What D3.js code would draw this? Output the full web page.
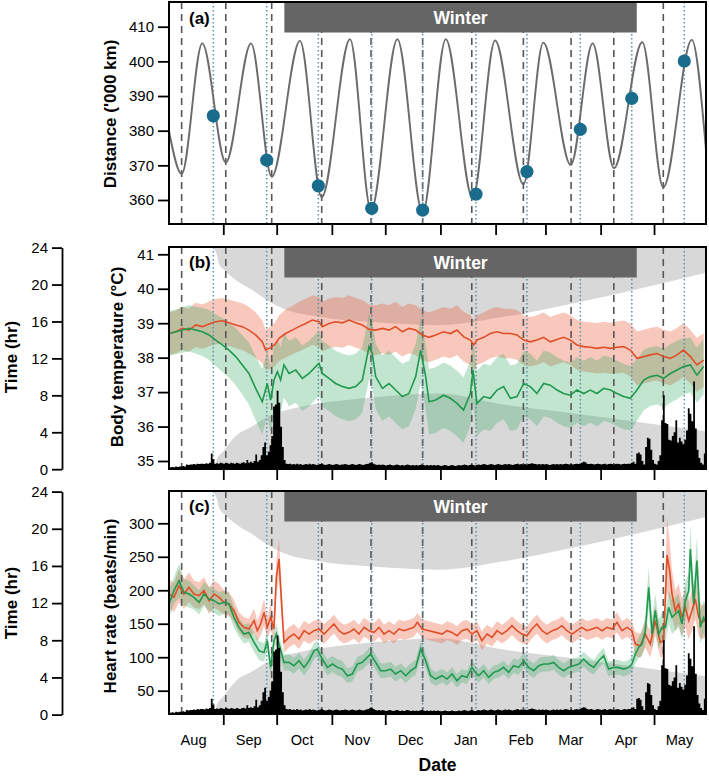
<!DOCTYPE html>
<html><head><meta charset="utf-8">
<script src="https://cdn.jsdelivr.net/npm/d3@7/dist/d3.min.js"></script>
<style>body{margin:0;background:#fff}svg{display:block;font-family:"Liberation Sans",Arial,Helvetica,sans-serif}</style>
</head><body><svg id="chart" width="709" height="777"></svg>
<script>
// ---------------- DATA (days counted from 1 Aug 2014) ----------------
const seasonStartUTC = Date.UTC(2014, 7, 1);
const monthLabels = ["Aug","Sep","Oct","Nov","Dec","Jan","Feb","Mar","Apr","May"];
const distTicks = [360,370,380,390,400,410];
const tempTicks = [35,36,37,38,39,40,41];
const hrTicks = [50,100,150,200,250,300];
const timeTicks = [0,4,8,12,16,20,24];
const winterPeriod = [65.3, 263.3];           // day range of the "Winter" bar
const perigeeDays = [7.6,32.4,58.2,86.3,114.0,143.0,170.6,199.6,226.4,250.4,278.2]; // dashed
const fullMoonDays = [25.4,55.4,84.4,114.4,143.0,173.0,201.6,231.6,260.5,290.0];   // dotted
const fullMoonDist = [384.3,371.5,364.1,357.6,357.1,361.7,368.2,380.4,389.3,400.1];
// lunar distance ('000 km) turning points [day, value]
const lunarDistance = [[0.5,379.9],[7.6,367.5],[19.2,405.2],[32.4,370.8],[46.6,405.2],[58.2,366.7],[74.1,405.9],[86.3,360.8],[102.2,406.4],[114.0,357.0],[128.8,406.4],[143.0,356.3],[156.0,406.4],[171.1,360.5],[183.7,406.0],[199.6,364.5],[210.8,405.4],[226.2,370.1],[238.5,405.2],[250.5,369.2],[266.4,405.5],[278.2,363.6],[294.2,406.2],[302.2,374.4]];
// darkness boundaries [day, hour]
const sunsetHour = [[24.5,24],[27.3,23.3],[28.6,22.25],[32.0,21.5],[38.0,20.5],[47.3,19.4],[56.7,18.2],[62.3,17.6],[84.8,16.5],[112.9,15.96],[152.2,15.6],[188.5,16.5],[226.0,17.9],[302.8,21.3]];
const sunriseHour = [[26.2,0],[27.4,1.1],[30.4,1.8],[38.0,3.6],[47.3,4.66],[56.7,5.74],[75.4,6.8],[94.2,7.35],[122.2,7.9],[152.2,8.2],[188.5,7.0],[226.0,6.1],[302.8,4.1]];
// body temperature [day, mean, half-width]
const tempRed = [[0.5,38.70,.62],[4.3,38.75,.62],[8.0,38.85,.63],[11.7,38.80,.63],[15.5,38.95,.64],[19.2,38.90,.64],[23.0,38.98,.65],[26.7,39.04,.66],[30.5,39.07,.66],[34.2,39.01,.67],[38.0,38.95,.68],[41.7,38.90,.68],[45.4,38.80,.68],[49.2,38.66,.66],[52.9,38.46,.62],[54.8,38.22,.58],[56.7,38.27,.6],[58.6,38.32,.62],[60.4,38.41,.64],[62.3,38.56,.66],[66.0,38.70,.7],[69.8,38.80,.7],[73.5,38.90,.72],[77.3,38.99,.72],[81.0,39.09,.72],[84.8,39.04,.72],[86.6,38.90,.72],[90.4,38.99,.72],[94.1,39.04,.72],[97.9,39.01,.72],[101.6,39.09,.72],[105.4,39.01,.72],[109.1,38.95,.72],[112.9,38.82,.72],[116.6,38.80,.72],[120.4,38.85,.72],[124.1,38.80,.72],[127.8,38.90,.72],[131.6,38.75,.72],[135.3,38.85,.72],[139.1,38.80,.72],[142.8,38.66,.72],[146.6,38.59,.72],[150.3,38.66,.72],[154.8,38.75,.72],[158.6,38.70,.72],[162.3,38.80,.72],[166.0,38.61,.72],[169.8,38.51,.72],[171.7,38.37,.72],[173.5,38.51,.72],[177.3,38.59,.72],[181.0,38.70,.72],[184.8,38.75,.72],[188.5,38.70,.72],[192.3,38.70,.72],[196.0,38.66,.72],[199.8,38.51,.72],[203.5,38.46,.72],[207.2,38.51,.72],[211.0,38.59,.72],[214.7,38.46,.72],[218.5,38.53,.72],[222.2,38.59,.72],[226.0,38.51,.72],[229.7,38.37,.72],[233.5,38.32,.72],[237.2,38.30,.73],[241.0,38.27,.73],[244.7,38.30,.74],[248.5,38.27,.74],[252.2,38.30,.75],[255.9,38.32,.76],[259.7,38.22,.77],[263.4,37.98,.78],[267.2,38.03,.78],[270.9,38.08,.78],[274.7,38.12,.78],[278.4,38.03,.78],[282.2,37.98,.78],[285.9,38.08,.78],[289.6,38.22,.78],[293.4,38.03,.78],[297.1,37.79,.78],[300.9,37.93,.78]];
const tempGreen = [[0.5,38.70,.65],[4.3,38.75,.65],[8.0,38.80,.66],[11.7,38.85,.67],[15.5,38.80,.68],[19.2,38.75,.7],[23.0,38.66,.72],[26.7,38.51,.75],[30.5,38.37,.78],[34.2,38.22,.8],[38.0,38.03,.83],[41.7,37.79,.86],[45.4,37.54,.9],[49.2,37.11,.93],[52.9,36.72,.95],[55.7,37.25,.95],[57.6,36.77,.95],[59.5,37.35,.95],[61.4,37.59,.95],[63.2,37.35,.95],[65.1,37.79,.95],[67.9,37.54,.95],[71.7,37.64,.95],[75.4,37.40,.95],[79.2,37.54,.95],[82.9,37.74,.95],[84.8,37.83,.95],[86.6,37.54,.95],[90.4,37.40,.95],[94.1,37.25,.95],[97.9,37.16,.95],[101.6,37.11,.95],[105.4,37.16,.95],[109.1,37.35,.95],[112.9,38.32,.95],[114.7,38.12,.95],[116.6,37.45,.95],[120.4,37.11,.95],[124.1,37.25,.95],[127.8,37.06,.95],[131.6,36.87,.95],[135.3,36.96,.95],[139.1,37.45,.95],[141.9,38.22,.95],[144.7,37.45,.95],[146.6,36.72,.95],[150.3,36.77,.95],[154.8,36.91,.95],[158.6,36.82,.95],[162.3,36.67,.95],[166.0,36.48,.95],[169.8,36.96,.95],[171.3,37.64,.95],[173.5,36.67,.95],[177.3,36.87,.95],[181.0,36.82,.95],[184.8,37.06,.95],[188.5,37.16,.95],[192.3,36.82,.95],[196.0,36.87,.95],[199.8,37.25,.95],[203.5,37.16,.95],[207.2,36.96,.95],[211.0,37.25,.95],[214.7,37.20,.95],[218.5,37.06,.95],[222.2,36.96,.95],[226.0,36.91,.95],[229.7,37.06,.95],[233.5,36.96,.95],[237.2,37.06,.95],[241.0,36.96,.95],[244.7,37.11,.95],[248.5,37.06,.95],[252.2,36.96,.95],[255.9,36.87,.95],[259.7,36.82,.93],[263.4,37.06,.9],[267.2,37.35,.88],[270.9,37.45,.85],[274.7,37.49,.85],[278.4,37.40,.85],[282.2,37.54,.85],[285.9,37.64,.85],[289.6,37.74,.82],[293.4,37.79,.8],[297.1,37.49,.8],[300.9,37.74,.8]];
// heart rate [day, mean, half-width]
const hrRed = [[0.5,194.4,22],[3.3,189.4,22],[6.1,206.9,25],[8.9,194.4,22],[11.7,204.4,22],[14.5,194.4,20],[17.4,191.9,20],[20.2,199.4,20],[23.0,184.4,20],[25.8,194.4,20],[28.6,189.4,20],[31.4,181.9,18],[34.2,179.5,18],[37.0,169.5,16],[39.8,152.1,15],[42.6,144.6,15],[45.4,142.1,15],[48.3,154.6,18],[50.1,139.6,15],[52.0,149.6,18],[53.9,167.0,20],[55.7,144.6,15],[57.6,159.5,20],[59.5,142.1,15],[60.8,219.3,25],[62.3,246.7,30],[63.8,179.5,25],[65.1,122.2,15],[67.9,129.7,15],[70.7,134.6,15],[73.5,127.2,15],[76.4,139.6,15],[79.2,134.6,15],[82.0,139.6,15],[84.8,142.1,15],[87.6,134.6,15],[90.4,142.1,14],[93.2,149.6,14],[96.0,139.6,14],[98.8,134.6,14],[101.6,137.1,14],[104.4,142.1,14],[107.2,134.6,14],[110.1,144.6,14],[112.9,139.6,14],[115.7,137.1,14],[118.5,144.6,14],[121.3,134.6,14],[124.1,139.6,14],[126.9,134.6,14],[129.7,142.1,14],[132.5,139.6,14],[135.3,142.1,14],[138.1,144.6,14],[140.0,152.1,14],[142.8,142.1,14],[146.6,139.6,14],[150.3,137.1,14],[153.9,134.6,14],[156.7,139.6,14],[159.5,137.1,14],[162.3,132.1,14],[165.1,139.6,14],[167.9,142.1,14],[170.7,134.6,14],[173.5,139.6,14],[176.3,124.7,14],[179.2,134.6,14],[182.0,129.7,14],[184.8,139.6,14],[187.6,134.6,14],[190.4,139.6,14],[193.2,147.1,14],[196.0,139.6,14],[198.8,134.6,14],[201.6,132.1,14],[204.4,142.1,14],[207.2,149.6,14],[210.1,139.6,14],[212.9,134.6,14],[215.7,139.6,14],[218.5,142.1,14],[221.3,147.1,14],[224.1,139.6,14],[226.9,134.6,14],[229.7,139.6,14],[232.5,144.6,14],[235.3,139.6,14],[238.1,142.1,14],[241.0,144.6,14],[243.8,139.6,14],[246.6,144.6,14],[249.4,142.1,14],[252.2,152.1,15],[255.0,139.6,14],[257.8,144.6,14],[260.6,139.6,14],[262.5,119.7,18],[265.3,117.2,18],[268.1,134.6,20],[270.9,119.7,20],[273.7,154.6,22],[276.5,122.2,22],[278.4,124.7,25],[280.3,252.7,55],[281.8,229.3,45],[283.1,194.4,35],[285.0,169.5,30],[286.8,179.5,30],[288.7,159.5,28],[290.6,174.5,30],[292.5,154.6,28],[294.3,169.5,30],[296.2,187.0,30],[298.1,159.5,28],[300.0,152.1,25],[301.8,154.6,25]];
const hrGreen = [[0.5,179.5,20],[3.3,199.4,20],[6.1,214.3,25],[8.9,196.9,20],[11.7,194.4,20],[14.5,189.4,18],[17.4,181.9,18],[20.2,194.4,18],[23.0,186.9,18],[25.8,184.4,18],[28.6,179.5,18],[31.4,181.9,17],[34.2,179.5,16],[37.0,159.5,15],[39.8,144.6,14],[42.6,134.6,14],[45.4,137.1,14],[48.3,122.2,14],[51.1,109.7,14],[53.9,107.2,14],[55.7,124.7,14],[57.6,84.8,12],[59.5,124.7,14],[60.8,134.6,15],[62.3,119.7,14],[65.1,92.3,12],[67.9,92.3,12],[70.7,87.3,12],[73.5,94.8,12],[76.4,84.8,12],[79.2,94.8,12],[82.0,109.7,12],[83.8,112.2,12],[86.6,97.3,12],[89.5,84.8,12],[92.3,89.8,12],[95.1,84.8,12],[97.9,82.3,12],[100.7,72.4,11],[103.5,74.9,11],[106.3,89.8,11],[109.1,92.3,11],[111.9,99.8,11],[113.8,104.8,12],[116.6,92.3,11],[119.4,79.9,11],[122.2,79.9,11],[125.0,82.3,11],[127.8,74.9,11],[130.7,79.9,11],[133.5,72.4,11],[136.3,79.9,11],[139.1,84.8,11],[141.9,112.2,12],[144.7,94.8,11],[147.5,72.4,11],[150.3,67.4,10],[153.9,72.4,10],[156.7,67.4,10],[159.5,74.9,10],[162.3,64.9,10],[165.1,72.4,10],[167.9,69.9,10],[170.7,84.8,11],[172.6,77.4,10],[174.5,72.4,10],[177.3,79.9,10],[180.1,69.9,10],[182.9,77.4,10],[185.7,79.9,10],[188.5,84.8,10],[191.3,77.4,10],[194.1,87.3,11],[196.9,84.8,11],[199.8,94.8,11],[202.6,84.8,11],[205.4,79.9,11],[208.2,87.3,11],[211.0,89.8,11],[213.8,89.8,11],[216.6,92.3,11],[219.4,84.8,11],[222.2,79.9,11],[225.0,84.8,11],[227.8,87.3,11],[230.7,89.8,11],[233.5,97.3,11],[236.3,89.8,11],[239.1,84.8,11],[241.9,94.8,11],[244.7,102.3,12],[247.5,82.3,11],[250.3,84.8,11],[253.1,84.8,11],[255.9,82.3,11],[258.8,84.8,11],[260.6,89.8,12],[262.5,104.8,14],[264.4,114.7,16],[266.2,119.7,18],[268.1,139.6,22],[270.0,204.4,30],[271.9,134.6,25],[273.7,169.5,25],[275.6,134.6,22],[277.5,144.6,22],[279.4,144.6,22],[281.2,174.5,25],[283.1,159.5,25],[285.0,164.5,25],[286.8,169.5,25],[288.7,149.6,22],[290.6,184.4,28],[292.5,199.4,28],[293.4,261.6,35],[295.3,179.5,28],[297.1,244.2,35],[299.0,144.6,25],[300.9,159.5,25],[302.4,152.1,25]];
// daily activity (hr), day 0 = 1 Aug
const activityHours = [
0.2,0.2,0.25,0.2,0.3,0.25,0.3,0.3,0.35,0.3,
0.5,0.45,0.5,0.5,0.55,0.5,0.6,0.55,0.6,0.6,
0.55,0.65,0.6,0.7,1.7,1.1,0.6,0.65,0.6,0.7,
0.65,0.6,0.7,0.65,0.6,0.7,0.65,0.6,0.7,0.65,
0.6,0.7,0.75,0.65,1.0,0.7,0.8,0.7,0.9,1.6,
0.8,1.0,1.5,2.4,2.9,1.5,1.9,2.6,3.6,6.8,
7.0,8.5,7.2,4.6,2.4,1.0,0.6,0.55,0.6,0.5,
0.55,0.5,0.6,0.5,0.55,0.45,0.5,0.55,0.5,0.6,
0.5,0.55,0.5,0.45,0.5,0.55,0.6,0.5,0.45,0.5,
0.55,0.5,0.45,0.5,0.55,0.5,0.45,0.5,0.5,0.55,
0.5,0.45,0.5,0.55,0.5,0.45,0.5,0.55,0.5,0.45,
0.5,0.55,0.6,0.7,0.75,0.6,0.5,0.45,0.5,0.45,
0.5,0.45,0.4,0.45,0.5,0.45,0.4,0.45,0.5,0.45,
0.4,0.45,0.4,0.45,0.5,0.45,0.4,0.45,0.4,0.45,
0.4,0.45,0.5,0.45,0.4,0.45,0.4,0.45,0.4,0.45,
0.4,0.45,0.4,0.35,0.4,0.45,0.4,0.35,0.4,0.45,
0.4,0.35,0.4,0.45,0.4,0.45,0.5,0.45,0.4,0.45,
0.5,0.45,0.4,0.45,0.5,0.45,0.5,0.55,0.5,0.45,
0.5,0.55,0.5,0.45,0.5,0.55,0.5,0.45,0.5,0.55,
0.5,0.55,0.5,0.45,0.5,0.55,0.6,0.5,0.55,0.5,
0.55,0.5,0.55,0.6,0.65,0.6,0.55,0.5,0.55,0.5,
0.55,0.5,0.55,0.5,0.45,0.5,0.55,0.5,0.55,0.5,
0.55,0.5,0.55,0.6,0.55,0.5,0.55,0.5,0.55,0.6,
0.55,0.6,0.7,0.8,0.75,0.6,0.55,0.6,0.55,0.5,
0.55,0.6,0.55,0.5,0.55,0.6,0.5,0.55,0.6,0.55,
0.5,0.55,0.6,0.55,0.5,0.55,0.6,0.55,0.6,0.6,
0.7,0.8,0.6,1.7,1.8,1.6,0.9,0.5,2.4,3.4,
3.3,2.1,1.0,0.6,0.5,0.9,1.5,5.3,8.0,5.0,
4.9,3.2,3.1,3.6,4.0,5.3,2.9,3.4,3.0,2.7,
3.2,4.2,6.6,6.0,5.2,9.5,4.4,2.1,1.2,0.7,
0.5,1.7];

// ---------------- DRAWING ----------------
const day = d => new Date(seasonStartUTC + d * 864e5);
const svg = d3.select("#chart");
const L = 169, R = 706;
const P = {a:{top:2,bottom:224}, b:{top:247,bottom:469}, c:{top:491,bottom:714}};
const x = d3.scaleUtc().domain([day(0.5), day(302.2)]).range([L, R]);
const xd = d => x(day(d));

const yDist = d3.scaleLinear().domain([360,410]).range([200,26.7]);
const yTemp = d3.scaleLinear().domain([35,41]).range([461,254.3]);
const yHR = d3.scaleLinear().domain([50,300]).range([690.7,523.3]);
const yTimeB = d3.scaleLinear().domain([0,24]).range([469.2,247.6]);
const yTimeC = d3.scaleLinear().domain([0,24]).range([714.6,491.6]);

const COL = {red:"#e04e28", green:"#1f994d", pink:"#e8603c", mint:"#34a865", night:"#d8d8d8",
  winter:"#656565", dash:"#575757", dot:"#5b8fab", moon:"#1a6c8c"};

const defs = svg.append("defs");
Object.entries(P).forEach(([k,p]) => {
  defs.append("clipPath").attr("id","clip-"+k).append("rect")
    .attr("x",L).attr("y",p.top).attr("width",R-L).attr("height",p.bottom-p.top);
});

function styleAxis(g, fs){
  g.attr("font-family",null).attr("font-size",fs);
  g.selectAll(".tick line").attr("stroke","#000").attr("stroke-width",1.8);
  g.selectAll(".tick text").attr("fill","#000");
  g.select(".domain").attr("stroke-width",1.8);
}

function moonLines(g, p){
  g.selectAll("line.per").data(perigeeDays).join("line").attr("class","per")
    .attr("x1",xd).attr("x2",xd).attr("y1",p.top).attr("y2",p.bottom)
    .attr("stroke",COL.dash).attr("stroke-width",1.6).attr("stroke-dasharray","7,5");
  g.selectAll("line.fm").data(fullMoonDays).join("line").attr("class","fm")
    .attr("x1",xd).attr("x2",xd).attr("y1",p.top).attr("y2",p.bottom)
    .attr("stroke",COL.dot).attr("stroke-width",1.5).attr("stroke-dasharray","1.5,2.5");
}

function winterBar(g, p){
  g.append("rect").attr("x",xd(winterPeriod[0])).attr("y",p.top)
    .attr("width",xd(winterPeriod[1])-xd(winterPeriod[0])).attr("height",30.5).attr("fill",COL.winter);
  g.append("text").attr("x",(xd(winterPeriod[0])+xd(winterPeriod[1]))/2).attr("y",p.top+21.5)
    .attr("text-anchor","middle").attr("fill","#fff").attr("font-weight","bold").attr("font-size",17.5)
    .text("Winter");
}

function frameAndXTicks(p, letter){
  svg.append("text").attr("x",189).attr("y",p.top+(letter==="(a)"?22:20.5)).attr("font-weight","bold")
    .attr("font-size",17).text(letter);
  svg.append("rect").attr("x",L).attr("y",p.top).attr("width",R-L).attr("height",p.bottom-p.top)
    .attr("fill","none").attr("stroke","#000").attr("stroke-width",2);
  const ax = svg.append("g").attr("transform",`translate(0,${p.bottom})`)
    .call(d3.axisBottom(x).tickValues(d3.utcMonth.range(day(1), day(302))).tickSize(11).tickFormat(""));
  ax.select(".domain").remove();
  styleAxis(ax, 14.6);
}

function yTitle(txt, cx, cy){
  svg.append("text").attr("transform",`translate(${cx},${cy}) rotate(-90)`).attr("dy","0.35em")
    .attr("text-anchor","middle").attr("font-weight","bold").attr("font-size",17).text(txt);
}

function yAxisLeft(scale, ticks){
  const g = svg.append("g").attr("transform",`translate(${L},0)`)
    .call(d3.axisLeft(scale).tickValues(ticks).tickSize(11).tickPadding(4).tickFormat(d3.format("d")));
  g.select(".domain").remove();
  styleAxis(g, 15);
}

function timeAxis(scale){
  const g = svg.append("g").attr("transform",`translate(62,0)`)
    .call(d3.axisLeft(scale).tickValues(timeTicks).tickSize(10).tickSizeOuter(0).tickPadding(4).tickFormat(d3.format("d")));
  styleAxis(g, 15);
}

// ----- Panel (a)
{
  const p = P.a;
  const g = svg.append("g").attr("clip-path","url(#clip-a)");
  moonLines(g, p);
  g.append("path").datum(lunarDistance)
    .attr("d", d3.line().x(d=>xd(d[0])).y(d=>yDist(d[1])).curve(d3.curveMonotoneX))
    .attr("fill","none").attr("stroke","#6b6b6b").attr("stroke-width",1.9);
  g.selectAll("circle").data(fullMoonDays).join("circle")
    .attr("cx",d=>xd(d)).attr("cy",(d,i)=>yDist(fullMoonDist[i])).attr("r",6.6).attr("fill",COL.moon);
  winterBar(g, p);
  frameAndXTicks(p, "(a)");
  yAxisLeft(yDist, distTicks);
  yTitle("Distance ('000 km)", 110, 114);
}

function physPanel(key, p, yT, yV, red, green, letter){
  const g = svg.append("g").attr("clip-path",`url(#clip-${key})`);
  g.append("path").datum(sunsetHour)
    .attr("d", d3.area().x(d=>xd(d[0])).y0(yT(24)).y1(d=>yT(d[1])).curve(d3.curveMonotoneX))
    .attr("fill",COL.night);
  g.append("path").datum(sunriseHour)
    .attr("d", d3.area().x(d=>xd(d[0])).y0(yT(0)).y1(d=>yT(d[1])).curve(d3.curveMonotoneX))
    .attr("fill",COL.night);
  const band = d3.area().x(d=>xd(d[0])).y0(d=>yV(d[1]-d[2])).y1(d=>yV(d[1]+d[2]));
  g.append("path").datum(red).attr("d",band).attr("fill",COL.pink).attr("fill-opacity",0.35);
  g.append("path").datum(green).attr("d",band).attr("fill",COL.mint).attr("fill-opacity",0.3);
  moonLines(g, p);
  const line = d3.line().x(d=>xd(d[0])).y(d=>yV(d[1]));
  g.append("path").datum(red).attr("d",line).attr("fill","none").attr("stroke",COL.red).attr("stroke-width",1.6);
  g.append("path").datum(green).attr("d",line).attr("fill","none").attr("stroke",COL.green).attr("stroke-width",1.6);
  const hist = activityHours.map((v,i)=>[i,v]);
  hist.push([activityHours.length, activityHours[activityHours.length-1]]);
  g.append("path").datum(hist)
    .attr("d", d3.area().x(d=>xd(d[0])).y0(yT(0)).y1(d=>yT(d[1])).curve(d3.curveStepAfter))
    .attr("fill","#000");
  winterBar(g, p);
  frameAndXTicks(p, letter);
  timeAxis(yT);
}

// ----- Panel (b)
physPanel("b", P.b, yTimeB, yTemp, tempRed, tempGreen, "(b)");
yAxisLeft(yTemp, tempTicks);
yTitle("Body temperature (°C)", 117, 357);
yTitle("Time (hr)", 11.5, 357);

// ----- Panel (c)
physPanel("c", P.c, yTimeC, yHR, hrRed, hrGreen, "(c)");
yAxisLeft(yHR, hrTicks);
yTitle("Heart rate (beats/min)", 110, 606);
yTitle("Time (hr)", 11.5, 603);

// month labels
{
  const mids = d3.utcMonth.range(day(0), day(302)).map(m => d3.utcDay.offset(m, 14));
  const g = svg.append("g").attr("transform",`translate(0,${P.c.bottom})`)
    .call(d3.axisBottom(x).tickValues(mids).tickSize(0).tickPadding(21).tickFormat((d,i)=>monthLabels[i]));
  g.select(".domain").remove();
  styleAxis(g, 14.6);
  svg.append("text").attr("x",(L+R)/2).attr("y",771).attr("text-anchor","middle")
    .attr("font-weight","bold").attr("font-size",17.5).text("Date");
}
</script></body></html>
